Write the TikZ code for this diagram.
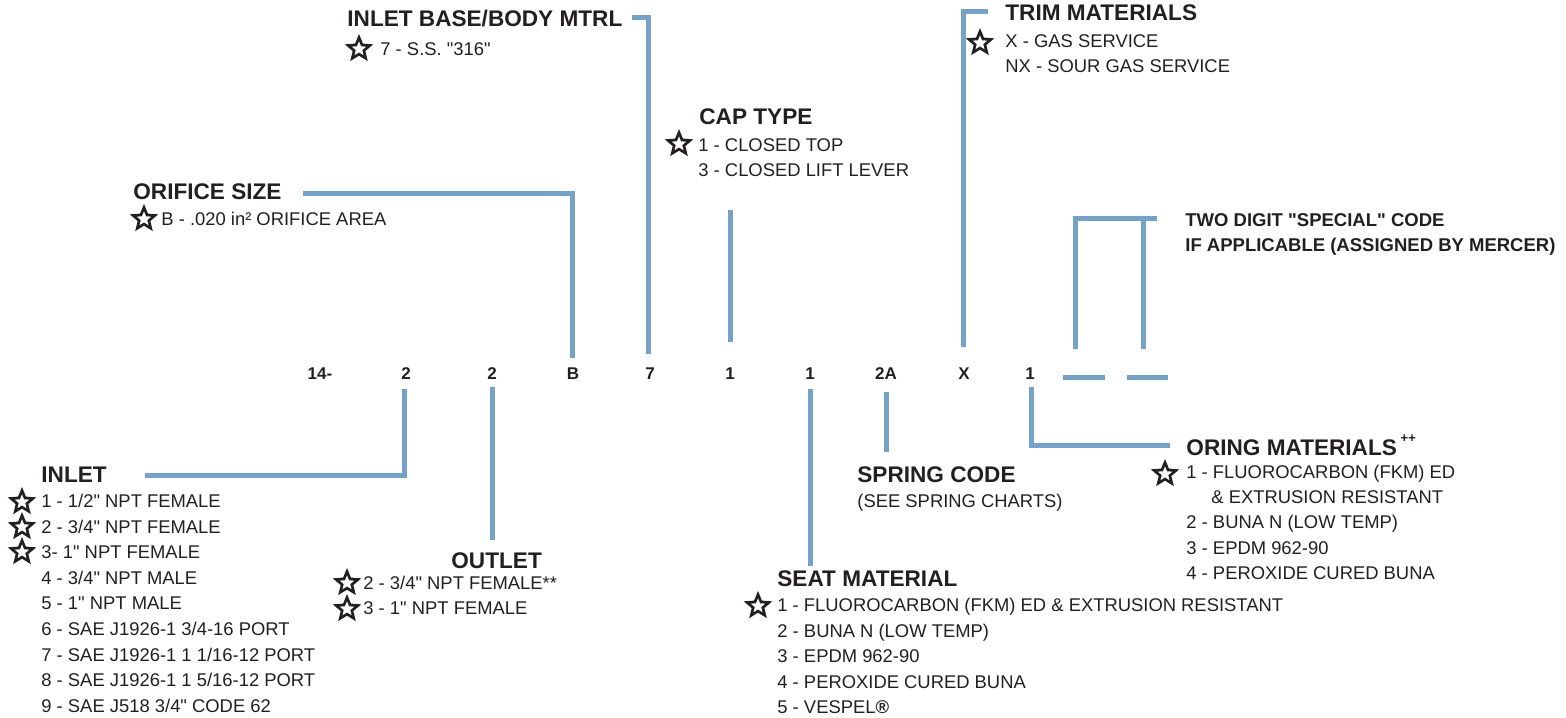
\documentclass[tikz,border=0pt]{standalone}
\usepackage{fontspec}
\setmainfont{Liberation Sans}
\usetikzlibrary{shapes.geometric}
\definecolor{ink}{HTML}{231F20}
\definecolor{lineblue}{HTML}{77A2C8}
\newcommand\dq{\XeTeXglyph\XeTeXcharglyph"22\relax}
\newcommand\favstar[2]{%
  \node[favout] (#1) at #2 {};
  \node[favin] (#1-in) at (#1.center) {};}
\begin{document}
\begin{tikzpicture}[x=0.5pt,y=-0.5pt,
 body/.style={anchor=base west, inner sep=0pt, text=ink, font=\fontsize{9.2}{11}\selectfont},
 head/.style={anchor=base west, inner sep=0pt, text=ink, font=\fontsize{11.3}{13}\selectfont\bfseries},
 note/.style={anchor=base west, inner sep=0pt, text=ink, font=\fontsize{9.25}{12}\selectfont\bfseries},
 code/.style={anchor=base, inner sep=0pt, text=ink, font=\fontsize{8.5}{10}\selectfont\bfseries},
 favout/.style={star, star points=5, star point ratio=2.25, fill=ink, minimum size=15pt, inner sep=0pt},
 favin/.style={star, star points=5, star point ratio=2.25, fill=white, minimum size=7.6pt, inner sep=0pt},
 lead/.style={draw=lineblue, line width=2.5pt, line join=miter}
]
\useasboundingbox (0,0) rectangle (1566,717);

% ---- code row ----
\node[code] (c14) at (320,379) {14-};
\node[code] (c2a) at (406,379) {2};
\node[code] (c2b) at (492,379) {2};
\node[code] (cB)  at (573,379) {B};
\node[code] (c7)  at (650,379) {7};
\node[code] (c1a) at (730,379) {1};
\node[code] (c1b) at (810,379) {1};
\node[code] (c2A) at (886,379) {2A};
\node[code] (cX)  at (964,379) {X};
\node[code] (c1c) at (1030,379) {1};
\coordinate (d1a) at (1063,377); \coordinate (d1b) at (1105,377);
\coordinate (d2a) at (1127,377); \coordinate (d2b) at (1168,377);
\draw[lead] (d1a) -- (d1b);
\draw[lead] (d2a) -- (d2b);

% ---- ORIFICE SIZE ----
\node[head] (orh) at (133,199) {ORIFICE SIZE};
\favstar{ors}{(144,219)}
\node[body] (ori) at (161,225) {B - .020 in² ORIFICE AREA};
\coordinate (or1) at (303,193); \coordinate (or2) at (572,193); \coordinate (or3) at (572,358);
\draw[lead] (or1) -- (or2) -- (or3);

% ---- INLET BASE/BODY MTRL ----
\node[head] (bah) at (347,27) {INLET BASE/BODY MTRL};
\favstar{bas}{(359,49)}
\node[body] (bai) at (380,56) {7 - S.S. \dq316\dq};
\coordinate (ba1) at (632,18); \coordinate (ba2) at (648,18); \coordinate (ba3) at (648,354);
\draw[lead] (ba1) -- (ba2) -- (ba3);

% ---- CAP TYPE ----
\node[head] (cah) at (699,125) {CAP TYPE};
\favstar{cas}{(679,144)}
\node[body] (ca1) at (698,151) {1 - CLOSED TOP};
\node[body] (ca2) at (698,176) {3 - CLOSED LIFT LEVER};
\coordinate (cp1) at (730,210); \coordinate (cp2) at (730,342);
\draw[lead] (cp1) -- (cp2);

% ---- TRIM MATERIALS ----
\node[head] (trh) at (1005,21) {TRIM MATERIALS};
\favstar{trs}{(980,43)}
\node[body] (tr1) at (1005,48) {X - GAS SERVICE};
\node[body] (tr2) at (1005,73) {NX - SOUR GAS SERVICE};
\coordinate (tm1) at (988,12); \coordinate (tm2) at (963,12); \coordinate (tm3) at (963,347);
\draw[lead] (tm1) -- (tm2) -- (tm3);

% ---- SPECIAL CODE ----
\node[note] (sp1) at (1185,226) {TWO DIGIT \dq SPECIAL\dq{} CODE};
\node[note] (sp2) at (1185,251) {IF APPLICABLE (ASSIGNED BY MERCER)};
\coordinate (sb1) at (1075,349); \coordinate (sb2) at (1075,218); \coordinate (sb3) at (1157,218);
\coordinate (sb4) at (1143,218); \coordinate (sb5) at (1143,349);
\draw[lead] (sb1) -- (sb2) -- (sb3);
\draw[lead] (sb4) -- (sb5);

% ---- INLET ----
\node[head] (inh) at (41,482) {INLET};
\favstar{ins1}{(22,502)}
\favstar{ins2}{(22,527)}
\favstar{ins3}{(22,552)}
\node[body] (in1) at (41,507) {1 - 1/2\dq{} NPT FEMALE};
\node[body] (in2) at (41,533) {2 - 3/4\dq{} NPT FEMALE};
\node[body] (in3) at (41,558) {3- 1\dq{} NPT FEMALE};
\node[body] (in4) at (41,584) {4 - 3/4\dq{} NPT MALE};
\node[body] (in5) at (41,609) {5 - 1\dq{} NPT MALE};
\node[body] (in6) at (41,635) {6 - SAE J1926-1 3/4-16 PORT};
\node[body] (in7) at (41,661) {7 - SAE J1926-1 1 1/16-12 PORT};
\node[body] (in8) at (41,686) {8 - SAE J1926-1 1 5/16-12 PORT};
\node[body] (in9) at (41,712) {9 - SAE J518 3/4\dq{} CODE 62};
\coordinate (il1) at (404,389); \coordinate (il2) at (404,475); \coordinate (il3) at (145,475);
\draw[lead] (il1) -- (il2) -- (il3);

% ---- OUTLET ----
\node[head] (ouh) at (451,568) {OUTLET};
\favstar{ous1}{(347,583)}
\favstar{ous2}{(347,609)}
\node[body] (ou1) at (363,589) {2 - 3/4\dq{} NPT FEMALE**};
\node[body] (ou2) at (363,614) {3 - 1\dq{} NPT FEMALE};
\coordinate (ol1) at (492,387); \coordinate (ol2) at (492,540);
\draw[lead] (ol1) -- (ol2);

% ---- SEAT MATERIAL ----
\node[head] (seh) at (777,586) {SEAT MATERIAL};
\favstar{ses}{(758,606)}
\node[body] (se1) at (777,611) {1 - FLUOROCARBON (FKM) ED \& EXTRUSION RESISTANT};
\node[body] (se2) at (777,637) {2 - BUNA N (LOW TEMP)};
\node[body] (se3) at (777,662) {3 - EPDM 962-90};
\node[body] (se4) at (777,688) {4 - PEROXIDE CURED BUNA};
\node[body] (se5) at (777,713) {5 - VESPEL{\bfseries ®}};
\coordinate (sl1) at (810,389); \coordinate (sl2) at (810,566);
\draw[lead] (sl1) -- (sl2);

% ---- SPRING CODE ----
\node[head] (sph) at (857,482) {SPRING CODE};
\node[body] (spi) at (857,507) {(SEE SPRING CHARTS)};
\coordinate (pl1) at (886,392); \coordinate (pl2) at (886,452);
\draw[lead] (pl1) -- (pl2);

% ---- ORING MATERIALS ----
\node[head] (onh) at (1186,455) {ORING MATERIALS\,\raisebox{0.55em}{\fontsize{6.5}{7}\selectfont\bfseries ++}};
\favstar{ons}{(1165,474)}
\node[body] (on1) at (1186,478) {1 - FLUOROCARBON (FKM) ED};
\node[body] (on1b) at (1211,503) {\& EXTRUSION RESISTANT};
\node[body] (on2) at (1186,528) {2 - BUNA N (LOW TEMP)};
\node[body] (on3) at (1186,554) {3 - EPDM 962-90};
\node[body] (on4) at (1186,579) {4 - PEROXIDE CURED BUNA};
\coordinate (ml1) at (1031,387); \coordinate (ml2) at (1031,445); \coordinate (ml3) at (1170,445);
\draw[lead] (ml1) -- (ml2) -- (ml3);
\end{tikzpicture}
\end{document}
